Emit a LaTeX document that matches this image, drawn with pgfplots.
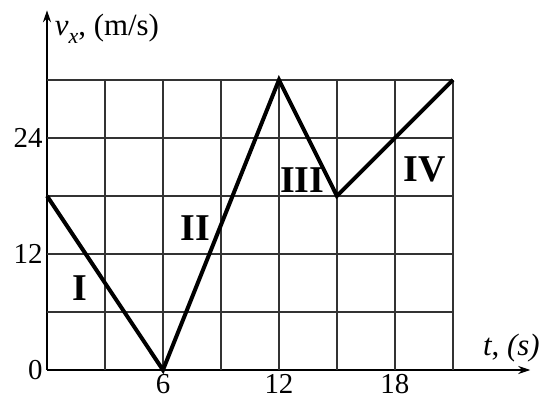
\documentclass[border=0pt]{standalone}
\usepackage{fontspec}
\setmainfont{Liberation Serif}
\usepackage{pgfplots}
\pgfplotsset{compat=1.18}
\usetikzlibrary{arrows.meta}
\begin{document}
\begin{tikzpicture}
\begin{axis}[
  anchor=origin, at={(0,0)},
  x=19.33bp, y=9.67bp,
  xmin=0, xmax=25, ymin=0, ymax=37.2,
  axis lines=left,
  axis line style={line width=1.3bp, -{Stealth[length=12bp,width=8bp]}},
  xtick={6,12,18}, ytick={0,12,24},
  major tick length=0pt,
  tick label style={font=\fontsize{29}{33}\selectfont},
  /pgf/number format/assume math mode=true,
  xticklabel style={yshift=-1bp},
  yticklabel style={xshift=-1bp},
  clip=false,
]
\foreach \xx in {3,6,...,21} {
  \edef\temp{\noexpand\draw[black!80, line width=1.4bp] (axis cs:\xx,0) -- (axis cs:\xx,30);}
  \temp
}
\foreach \yy in {6,12,...,30} {
  \edef\temp{\noexpand\draw[black!80, line width=1.4bp] (axis cs:0,\yy) -- (axis cs:21,\yy);}
  \temp
}
\addplot[black, line width=4bp, line join=miter] coordinates {(0,18) (6,0) (12,30) (15,18) (21,30)};
\node[anchor=base west, font=\fontsize{31}{36}\selectfont, inner sep=0pt] at (axis cs:0.4,34.6) {\textit{v}\raisebox{-0.25em}{\fontsize{22}{24}\selectfont\itshape x}, (m/s)};
\node[anchor=base west, font=\fontsize{31}{36}\selectfont, inner sep=0pt] at (axis cs:22.55,1.55) {\textit{t}, \textit{(s)}};
\node[font=\fontsize{38}{44}\selectfont\bfseries] at (axis cs:1.7,8.5) {I};
\node[font=\fontsize{38}{44}\selectfont\bfseries] at (axis cs:7.66,14.7) {II};
\node[font=\fontsize{38}{44}\selectfont\bfseries] at (axis cs:13.2,19.6) {III};
\node[font=\fontsize{38}{44}\selectfont\bfseries] at (axis cs:19.55,20.7) {IV};
\end{axis}
\pgfresetboundingbox
\path[use as bounding box] (-47bp,-29bp) rectangle (495bp,370bp);
\end{tikzpicture}
\end{document}
